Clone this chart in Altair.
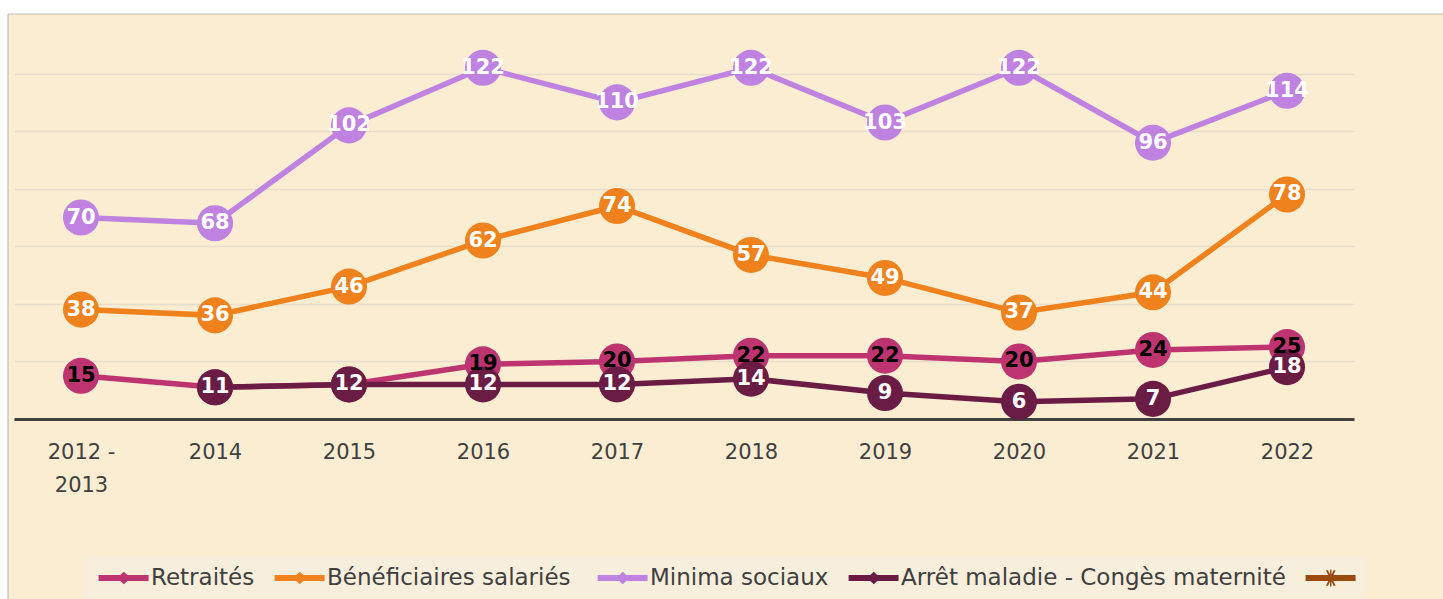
import altair as alt
import pandas as pd

# ---- data ----
years = ["2012 - 2013", "2014", "2015", "2016", "2017", "2018", "2019", "2020", "2021", "2022"]
retraites = [15, 11, 12, 19, 20, 22, 22, 20, 24, 25]
beneficiaires = [38, 36, 46, 62, 74, 57, 49, 37, 44, 78]
minima = [70, 68, 102, 122, 110, 122, 103, 122, 96, 114]
arret = [None, 11, 12, 12, 12, 14, 9, 6, 7, 18]

series_names = ["Retraités", "Bénéficiaires  salariés", "Minima sociaux",
                "Arrêt maladie - Congès maternité", " "]
series_values = [retraites, beneficiaires, minima, arret, []]
series_colors = ["#BE3470", "#F0821E", "#BF82E0", "#6B1C45", "#9A4A0E"]
grid_values = [20, 40, 60, 80, 100, 120]

rows = []
for k, (name, vals) in enumerate(zip(series_names, series_values)):
    for yr, v in zip(years, vals):
        if v is not None:
            rows.append({"year": yr, "series": name, "value": v, "order": k})
df = pd.DataFrame(rows)
legend_df = pd.DataFrame({"series": series_names})

# legend symbols: thick line with a small marker (custom paths, unit = 14px)
line_plus = ("M-0.6,-0.22 H0.95 L1.2,-0.45 L1.45,-0.22 H2.97 V0.22 H1.45 "
             "L1.2,0.45 L0.95,0.22 H-0.6 Z")
line_star = ("M-0.6,-0.22 H2.97 V0.22 H-0.6 Z "
             "M0.85,-0.55 L1.0,-0.55 L1.55,0.55 L1.4,0.55 Z "
             "M1.4,-0.55 L1.55,-0.55 L1.0,0.55 L0.85,0.55 Z "
             "M1.15,-0.6 H1.25 V0.6 H1.15 Z")
shapes = [line_plus, line_plus, line_plus, line_plus, line_star]

# data series scale (4 drawn series) and legend scale (5 entries) kept apart
data_scale = alt.Scale(domain=series_names[:4], range=series_colors[:4])

x_enc = alt.X("year:N", sort=years,
              scale=alt.Scale(type="point", padding=0.5),
              axis=alt.Axis(title=None, labelAngle=0, ticks=False, grid=False,
                            domainColor="#404040", domainWidth=3,
                            labelFont="DejaVu Sans", labelFontSize=21,
                            labelColor="#404040", labelPadding=22,
                            labelLineHeight=33,
                            labelExpr="datum.value == '2012 - 2013' ? ['2012  -', '2013'] : datum.value"))
y_enc = alt.Y("value:Q", scale=alt.Scale(domain=[0, 140], nice=False, zero=True),
              axis=alt.Axis(title=None, labels=False, ticks=False, domain=False,
                            grid=True, values=grid_values, gridColor="#E6DDCC",
                            gridWidth=1.5))

one = pd.DataFrame({"a": [0]})
# white strips outside the beige frame (top and left), with the grey frame edge
strip_top = alt.Chart(one).mark_rect(fill="#FFFFFF").encode(
    x=alt.value(-14), x2=alt.value(1429), y=alt.value(-16), y2=alt.value(-2))
strip_left = alt.Chart(one).mark_rect(fill="#FFFFFF").encode(
    x=alt.value(-14), x2=alt.value(-6), y=alt.value(-16), y2=alt.value(583))
edge_top = alt.Chart(one).mark_rule(color="#BDBDBD", strokeWidth=1.2).encode(
    x=alt.value(-6), x2=alt.value(1429), y=alt.value(-2))
edge_left = alt.Chart(one).mark_rule(color="#BDBDBD", strokeWidth=1.2).encode(
    x=alt.value(-6), y=alt.value(-2), y2=alt.value(583))

base = alt.Chart(df)

lines = base.mark_line(strokeWidth=5.5).encode(
    x=x_enc, y=y_enc,
    stroke=alt.Stroke("series:N", scale=data_scale, legend=None),
)

circles = base.mark_circle(size=1300, opacity=1).encode(
    x=x_enc, y=y_enc,
    fill=alt.Fill("series:N", scale=data_scale, legend=None),
    order=alt.Order("order:Q"),
)

texts = base.mark_text(font="DejaVu Sans", fontSize=21, fontWeight="bold").encode(
    x=x_enc, y=y_enc,
    text=alt.Text("value:Q"),
    fill=alt.condition("datum.series == 'Retraités'", alt.value("#000000"), alt.value("#FFFFFF")),
    order=alt.Order("order:Q"),
)

legend_props = dict(
    title=None, orient="none", legendX=71, legendY=540, direction="horizontal",
    columns=5, fillColor="#F7EEDC", padding=8, symbolSize=784,
    symbolStrokeWidth=0, labelFont="DejaVu Sans", labelFontSize=23,
    labelColor="#404040", labelLimit=700, labelOffset=30, columnPadding=14,
)
legend_layer = alt.Chart(legend_df).mark_point(filled=True, size=784, opacity=1).encode(
    x=alt.value(-3000), y=alt.value(-3000),
    color=alt.Color("series:N", scale=alt.Scale(domain=series_names, range=series_colors),
                    legend=alt.Legend(**legend_props)),
    shape=alt.Shape("series:N", scale=alt.Scale(domain=series_names, range=shapes),
                    legend=alt.Legend(**legend_props)),
)

chart = alt.layer(strip_top, strip_left, edge_top, edge_left,
                  lines, circles, texts, legend_layer).properties(
    width=1340, height=403,
    padding={"left": 14, "top": 16, "right": 89, "bottom": 180},
    autosize=alt.AutoSizeParams(type="none"),
    background="#FBEDD2",
).configure_view(stroke=None)

chart.save("out.html", embed_options={"renderer": "svg", "actions": False})
